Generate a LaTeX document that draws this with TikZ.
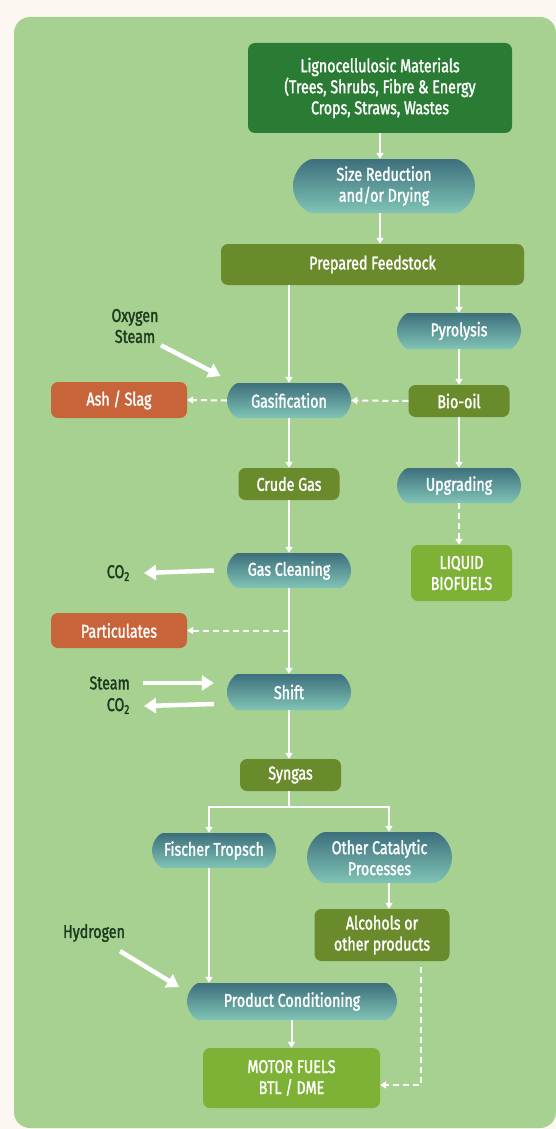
\documentclass[tikz,border=0pt]{standalone}
\usepackage{fontspec}
\setmainfont[FakeStretch=0.77, FakeBold=1.6]{Fira Sans}
\usepackage{tikz}
\usetikzlibrary{shapes,shapes.misc}
\usetikzlibrary{arrows.meta}
\usetikzlibrary{calc}
\definecolor{cream}{HTML}{FCF8F1}
\definecolor{panel}{HTML}{A7D191}
\definecolor{forest}{HTML}{2A7C35}
\definecolor{olive}{HTML}{6A8B2C}
\definecolor{rust}{HTML}{C8643A}
\definecolor{lime}{HTML}{7DB237}
\definecolor{tealtop}{HTML}{3D6F7C}
\definecolor{tealbot}{HTML}{80C4B6}
\definecolor{labelink}{HTML}{1C3A1E}
\tikzstyle{box}=[rectangle, rounded corners=7pt, text=white, align=center, inner sep=0pt, font=\fontsize{18.5}{21}\selectfont]
\tikzstyle{source}=[box, fill=forest]
\tikzstyle{product}=[box, fill=olive]
\tikzstyle{waste}=[box, fill=rust]
\tikzstyle{fuel}=[box, fill=lime]
\tikzstyle{pill}=[box, rounded rectangle, top color=tealtop, bottom color=tealbot]
\tikzstyle{inlabel}=[text=labelink, align=center, inner sep=0pt, font=\fontsize{18.5}{21}\selectfont]
\tikzstyle{flow}=[white, line width=2pt, -{Triangle[width=7pt,length=6pt]}]
\tikzstyle{side}=[flow, dash pattern=on 6pt off 4pt]
\tikzstyle{feed}=[white, line width=4.5pt, -{Triangle[width=15pt,length=12pt]}]

\begin{document}
\begin{tikzpicture}[x=1pt,y=-1pt]
\useasboundingbox (0,0) rectangle (556,1129);
\fill[cream] (0,0) rectangle (556,1129);
\fill[panel, rounded corners=16pt] (14,17) rectangle (556,1128);

% main column
\node[source, minimum width=264, minimum height=90] (lig) at (380,88) {Lignocellulosic Materials\\(Trees, Shrubs, Fibre \& Energy\\Crops, Straws, Wastes};
\node[pill, minimum width=182, minimum height=54] (size) at (384,186) {Size Reduction\\and/or Drying};
\node[product, minimum width=303, minimum height=41] (prep) at (372.5,264.5) {Prepared Feedstock};
\node[pill, minimum width=124, minimum height=36] (pyro) at (459,331) {Pyrolysis};
\node[pill, minimum width=124, minimum height=35] (gasi) at (289,400.5) {Gasification};
\node[product, minimum width=101, minimum height=32] (biooil) at (459,401) {Bio-oil};
\node[waste, minimum width=136, minimum height=36] (ash) at (119,400) {Ash / Slag};
\node[product, minimum width=101, minimum height=32] (crude) at (289,484) {Crude Gas};
\node[pill, minimum width=124, minimum height=35] (upgr) at (459,485.5) {Upgrading};
\node[fuel, minimum width=101, minimum height=56] (liquid) at (461.5,573) {LIQUID\\BIOFUELS};
\node[pill, minimum width=124, minimum height=35] (clean) at (289,570.5) {Gas Cleaning};
\node[waste, minimum width=136, minimum height=35] (partic) at (119,630.5) {Particulates};
\node[pill, minimum width=124, minimum height=36] (shift) at (289,692) {Shift};
\node[product, minimum width=101, minimum height=32] (syngas) at (290.5,775) {Syngas};
\node[pill, minimum width=124, minimum height=35] (fischer) at (214,850.5) {Fischer Tropsch};
\node[pill, minimum width=145, minimum height=51] (other) at (379.5,857.5) {Other Catalytic\\Processes};
\node[product, minimum width=135, minimum height=52] (alco) at (382,935) {Alcohols or\\other products};
\node[pill, minimum width=210, minimum height=37] (prodc) at (292,1001.5) {Product Conditioning};
\node[fuel, minimum width=177, minimum height=60] (motor) at (291.5,1078) {MOTOR FUELS\\BTL / DME};

% inputs and outputs
\node[inlabel] (oxy) at (135,326) {Oxygen\\Steam};
\node[inlabel, anchor=east] (co2a) at (130,573) {CO\textsubscript{2}};
\node[inlabel, anchor=east] (steam) at (130,683) {Steam};
\node[inlabel, anchor=east] (co2b) at (130,706) {CO\textsubscript{2}};
\node[inlabel] (hydro) at (94,933) {Hydrogen};
\coordinate (oxyend) at (220.5,376);
\coordinate (hydroend) at (179,987);
\coordinate (split) at (289,807);

\draw[flow] (lig.south) -- (lig.south |- size.north);
\draw[flow] (lig.south |- size.south) -- (lig.south |- prep.north);
\draw[flow] (prep.south -| gasi.north) -- (gasi.north);
\draw[flow] (prep.south -| pyro.north) -- (pyro.north);
\foreach \a/\b in {pyro/biooil,biooil/upgr,gasi/crude,crude/clean,clean/shift} {
	\draw[flow] (\a.south) -- (\b.north);
}
\draw[flow] (shift.south) -- (shift.south |- syngas.north);
\draw[side] (biooil.west) -- (gasi.east);
\draw[side] (gasi.west) -- (ash.east);
\draw[side] (upgr.south) -- (upgr.south |- liquid.north);
\draw[side] (clean.south |- partic.east) -- (partic.east);
\draw[flow] (shift.south |- syngas.south) -- (split) -| ([xshift=-5pt]fischer.north);
\draw[flow] (split) -| ([xshift=9.5pt]other.north);
\draw[flow] ([xshift=9.5pt]other.south) -- ([xshift=9.5pt]other.south |- alco.north);
\draw[flow] ([xshift=-5pt]fischer.south) -- ([xshift=-5pt]fischer.south |- prodc.north);
\draw[flow] (prodc.south -| motor.north) -- (motor.north);
\draw[side] ([xshift=39pt,yshift=-6pt]alco.south) |- ([yshift=-7pt]motor.east);

\draw[feed] ([xshift=26pt,yshift=-2pt]oxy.south) -- (oxyend);
\draw[feed] ([xshift=-13pt]clean.west) -- ([xshift=14pt]co2a.east);
\draw[feed] ([xshift=13pt]steam.east) -- ([xshift=-13pt,yshift=9pt]shift.west);
\draw[feed] ([xshift=-13pt,yshift=-12pt]shift.west) -- ([xshift=14pt]co2b.east);
\draw[feed] ([xshift=26pt,yshift=-9pt]hydro.south) -- (hydroend);
\end{tikzpicture}
\end{document}
